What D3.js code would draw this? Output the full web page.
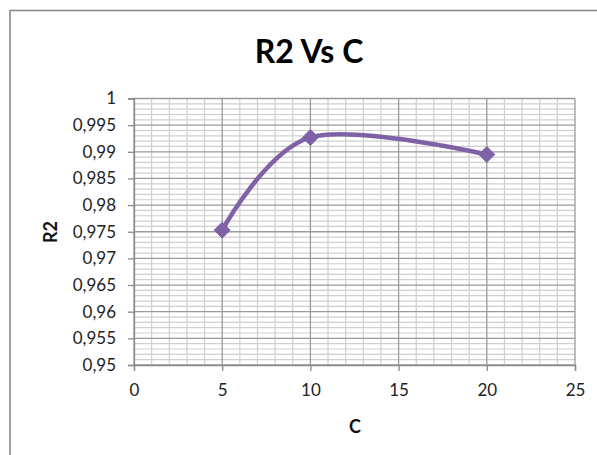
<!DOCTYPE html>
<html>
<head>
<meta charset="utf-8">
<script src="https://cdn.jsdelivr.net/npm/d3@7"></script>
<style>
  html, body { margin: 0; padding: 0; background: #fff; }
  svg { display: block; }
</style>
</head>
<body>
<svg id="chart" width="597" height="455"></svg>
<script>
// Series: R2 measured for each C
const cValues = [5, 10, 20];
const r2Values = [0.9753, 0.9927, 0.9895];

// Axis ticks
const xTicks = [0, 5, 10, 15, 20, 25];
const yTicks = [0.95, 0.955, 0.96, 0.965, 0.97, 0.975, 0.98, 0.985, 0.99, 0.995, 1];

const titleText = "R2 Vs C";
const xTitle = "C";
const yTitle = "R2";

const svg = d3.select("#chart");
const W = 597, H = 455;
const plot = { left: 134, right: 575, top: 98.5, bottom: 365 };
const font = "Lato, 'Open Sans', sans-serif";

const x = d3.scaleLinear().domain([0, 25]).range([plot.left, plot.right]);
const y = d3.scaleLinear().domain([0.95, 1]).range([plot.bottom, plot.top]);

// Outer chart frame
svg.append("rect")
  .attr("x", 10).attr("y", 10.5)
  .attr("width", W + 20).attr("height", H + 20)
  .attr("fill", "#fff").attr("stroke", "#8c8c8c").attr("stroke-width", 1.6);

// Minor gridlines
const g = svg.append("g");
const minorX = d3.range(0, 25.001, 1).filter(v => v % 5 !== 0);
const minorY = d3.range(0, 51).map(i => 0.95 + i * 0.001).filter((v, i) => i % 5 !== 0);
g.selectAll(".mx").data(minorX).join("line")
  .attr("x1", d => x(d)).attr("x2", d => x(d))
  .attr("y1", plot.top).attr("y2", plot.bottom)
  .attr("stroke", "#cfcfcf").attr("stroke-width", 1.2);
g.selectAll(".my").data(minorY).join("line")
  .attr("x1", plot.left).attr("x2", plot.right)
  .attr("y1", d => y(d)).attr("y2", d => y(d))
  .attr("stroke", "#cfcfcf").attr("stroke-width", 1.2);

// Major gridlines
g.selectAll(".Mx").data(xTicks).join("line")
  .attr("x1", d => x(d)).attr("x2", d => x(d))
  .attr("y1", plot.top).attr("y2", plot.bottom)
  .attr("stroke", "#9a9a9a").attr("stroke-width", 1.3);
g.selectAll(".My").data(yTicks).join("line")
  .attr("x1", plot.left).attr("x2", plot.right)
  .attr("y1", d => y(d)).attr("y2", d => y(d))
  .attr("stroke", "#9a9a9a").attr("stroke-width", 1.3);

// Axes
const fmt = d => String(+d.toFixed(3)).replace(".", ",");
const yAxis = d3.axisLeft(y).tickValues(yTicks).tickSize(6).tickPadding(12).tickFormat(fmt);
const xAxis = d3.axisBottom(x).tickValues(xTicks).tickSize(6).tickPadding(13).tickFormat(d => d);

const ya = svg.append("g").attr("transform", `translate(${plot.left},0)`).call(yAxis);
const xa = svg.append("g").attr("transform", `translate(0,${plot.bottom})`).call(xAxis);
[ya, xa].forEach(a => {
  a.select(".domain").attr("stroke", "#8a8a8a").attr("stroke-width", 1.3);
  a.selectAll(".tick line").attr("stroke", "#8a8a8a").attr("stroke-width", 1.3);
  a.selectAll("text").attr("fill", "#222").style("font-family", font).style("font-size", "17px");
});

// Smoothed series line
const pts = cValues.map((c, i) => [c, r2Values[i]]);
const line = d3.line().x(d => x(d[0])).y(d => y(d[1])).curve(d3.curveCatmullRom.alpha(0));
svg.append("path").datum(pts)
  .attr("d", line)
  .attr("fill", "none").attr("stroke", "#7f62a6").attr("stroke-width", 4.5)
  .attr("stroke-linejoin", "round").attr("stroke-linecap", "round");

// Diamond markers
svg.selectAll(".mk").data(pts).join("path")
  .attr("transform", d => `translate(${x(d[0])},${y(d[1])})`)
  .attr("d", "M0,-8L8,0L0,8L-8,0Z")
  .attr("fill", "#7f62a6").attr("stroke", "#7f62a6").attr("stroke-width", 1);

// Titles
svg.append("text").attr("x", 309).attr("y", 63).attr("text-anchor", "middle")
  .style("font-family", font).style("font-weight", "bold").style("font-size", "32px")
  .attr("fill", "#000").text(titleText);
svg.append("text").attr("x", 355).attr("y", 433).attr("text-anchor", "middle")
  .style("font-family", font).style("font-weight", "bold").style("font-size", "18px")
  .attr("fill", "#111").text(xTitle);
svg.append("text").attr("transform", "translate(57,232) rotate(-90)").attr("text-anchor", "middle")
  .style("font-family", font).style("font-weight", "bold").style("font-size", "18px")
  .attr("fill", "#111").text(yTitle);
</script>
</body>
</html>
